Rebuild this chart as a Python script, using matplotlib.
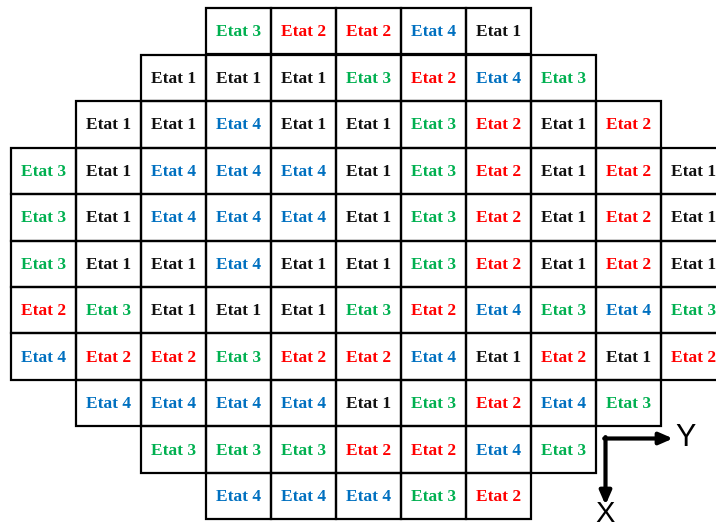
import matplotlib.pyplot as plt
from matplotlib.patches import Rectangle

# etats par ligne (de haut en bas) et colonne de depart de chaque ligne
rows = [
    ["Etat 3", "Etat 2", "Etat 2", "Etat 4", "Etat 1"],
    ["Etat 1", "Etat 1", "Etat 1", "Etat 3", "Etat 2", "Etat 4", "Etat 3"],
    ["Etat 1", "Etat 1", "Etat 4", "Etat 1", "Etat 1", "Etat 3", "Etat 2", "Etat 1", "Etat 2"],
    ["Etat 3", "Etat 1", "Etat 4", "Etat 4", "Etat 4", "Etat 1", "Etat 3", "Etat 2", "Etat 1", "Etat 2", "Etat 1"],
    ["Etat 3", "Etat 1", "Etat 4", "Etat 4", "Etat 4", "Etat 1", "Etat 3", "Etat 2", "Etat 1", "Etat 2", "Etat 1"],
    ["Etat 3", "Etat 1", "Etat 1", "Etat 4", "Etat 1", "Etat 1", "Etat 3", "Etat 2", "Etat 1", "Etat 2", "Etat 1"],
    ["Etat 2", "Etat 3", "Etat 1", "Etat 1", "Etat 1", "Etat 3", "Etat 2", "Etat 4", "Etat 3", "Etat 4", "Etat 3"],
    ["Etat 4", "Etat 2", "Etat 2", "Etat 3", "Etat 2", "Etat 2", "Etat 4", "Etat 1", "Etat 2", "Etat 1", "Etat 2"],
    ["Etat 4", "Etat 4", "Etat 4", "Etat 4", "Etat 1", "Etat 3", "Etat 2", "Etat 4", "Etat 3"],
    ["Etat 3", "Etat 3", "Etat 3", "Etat 2", "Etat 2", "Etat 4", "Etat 3"],
    ["Etat 4", "Etat 4", "Etat 4", "Etat 3", "Etat 2"],
]
row_start = [3, 2, 1, 0, 0, 0, 0, 0, 1, 2, 3]

couleurs = {
    "Etat 1": "#111111",
    "Etat 2": "#FF0000",
    "Etat 3": "#00B050",
    "Etat 4": "#0070C0",
}

fig = plt.figure(figsize=(7.16, 5.27), dpi=100)
ax = fig.add_axes([0, 0, 1, 1])

# cellule = 65 x 46.5 px, grille qui commence a (11.3, 8) px
cw, ch = 65.0, 46.5
x0, y0 = 11.3, 8.0
ax.set_xlim(-x0 / cw, (716 - x0) / cw)
ax.set_ylim((527 - y0) / ch, -y0 / ch)
ax.axis("off")

for i, ligne in enumerate(rows):
    for j, etat in enumerate(ligne):
        c = row_start[i] + j
        ax.add_patch(Rectangle((c, i), 1, 1, fill=False, edgecolor="black", linewidth=1.6))
        ax.text(c + 0.5, i + 0.52, etat, ha="center", va="center",
                fontsize=12.5, fontweight="bold", family="Liberation Serif",
                color=couleurs[etat])

# reperes X / Y
ox, oy = (605.5 - x0) / cw, (438.5 - y0) / ch
fleche = dict(arrowstyle="-|>,head_length=0.8,head_width=0.35", color="black", lw=3,
              shrinkA=0, shrinkB=0)
ax.annotate("", xy=((673 - x0) / cw, oy), xytext=(ox - 0.02, oy), arrowprops=fleche)
ax.annotate("", xy=(ox, (505 - y0) / ch), xytext=(ox, oy - 0.03), arrowprops=fleche)
ax.text((686 - x0) / cw, oy, "Y", ha="center", va="center", fontsize=22,
        family="Liberation Sans")
ax.text(ox, (514 - y0) / ch, "X", ha="center", va="center", fontsize=21,
        family="Liberation Sans")

fig.savefig("out.png", dpi=100)
